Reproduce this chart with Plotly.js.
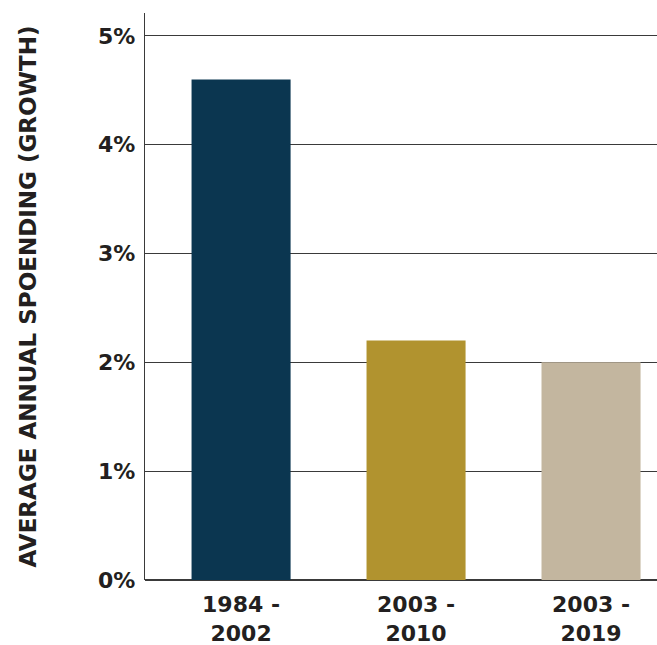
<!DOCTYPE html>
<html>
<head>
<meta charset="utf-8">
<script src="https://cdn.plot.ly/plotly-3.0.1.min.js"></script>
<style>
  html, body { margin: 0; padding: 0; background: #fff; }
  #chart { width: 657px; height: 645px; }
</style>
</head>
<body>
<div id="chart"></div>
<script>
// Average annual spending growth by period
const periods = ['1984 -<br>2002', '2003 -<br>2010', '2003 -<br>2019'];
const growthPct = [4.6, 2.2, 2.0];
const barColors = ['#0b3650', '#b1932f', '#c3b69f'];
const yTickVals = [0, 1, 2, 3, 4, 5];
const yTickText = ['0%', '1%', '2%', '3%', '4%', '5%'];

const textColor = '#231f20';
const fontFamily = '"DejaVu Sans", Arial, sans-serif';

const trace = {
  type: 'bar',
  x: periods,
  y: growthPct,
  width: 0.566,
  marker: { color: barColors, line: { width: 0 } },
  hoverinfo: 'skip'
};

const layout = {
  width: 657,
  height: 645,
  margin: { l: 145, r: 0, t: 13, b: 65 },
  paper_bgcolor: '#ffffff',
  plot_bgcolor: '#ffffff',
  showlegend: false,
  font: { family: fontFamily, color: textColor },
  xaxis: {
    type: 'category',
    range: [-0.549, 2.377],
    showgrid: false,
    zeroline: false,
    showline: false,
    ticks: '',
    ticklabelstandoff: 9,
    tickfont: { family: fontFamily, size: 22, color: textColor, weight: 'bold' },
    fixedrange: true
  },
  yaxis: {
    range: [0, 5.21],
    tickvals: yTickVals,
    ticktext: yTickText,
    ticks: '',
    ticklabelstandoff: 4,
    showgrid: true,
    gridcolor: '#3a3a3a',
    gridwidth: 1,
    zeroline: true,
    zerolinecolor: '#3a3a3a',
    zerolinewidth: 1.3,
    showline: true,
    linecolor: '#3a3a3a',
    linewidth: 1.3,
    tickfont: { family: fontFamily, size: 22, color: textColor, weight: 'bold' },
    title: {
      text: 'AVERAGE ANNUAL SPOENDING (GROWTH)',
      font: { family: fontFamily, size: 23, color: textColor, weight: 'bold' },
      standoff: 55
    },
    fixedrange: true
  }
};

Plotly.newPlot('chart', [trace], layout, { displayModeBar: false, staticPlot: true });
</script>
</body>
</html>
